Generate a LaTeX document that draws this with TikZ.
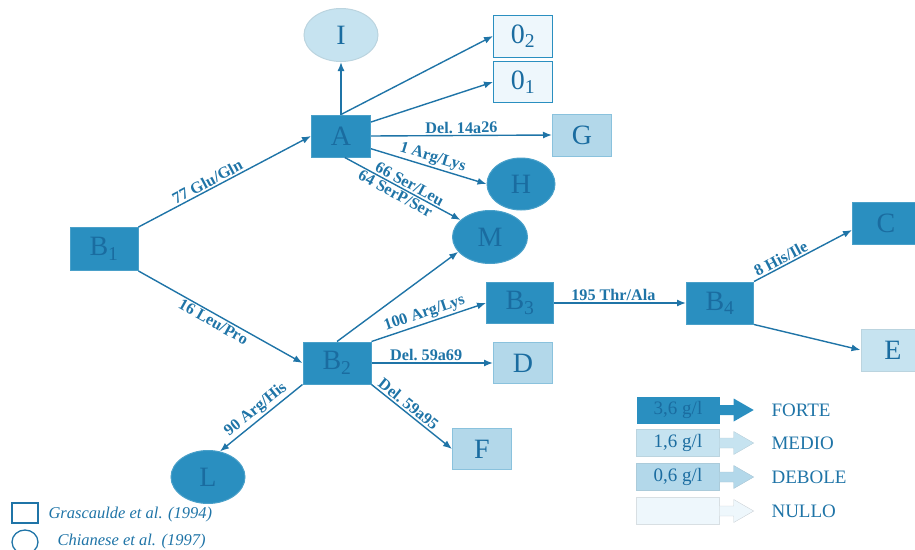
\documentclass[tikz,border=0pt]{standalone}
\usepackage{fontspec}
\setmainfont{Liberation Serif}
\usetikzlibrary{shapes.geometric, arrows.meta}

\definecolor{fortecol}{HTML}{2A8FC0}
\definecolor{mediocol}{HTML}{C6E3F0}
\definecolor{debolecol}{HTML}{B3D8EA}
\definecolor{nullocol}{HTML}{EEF7FC}
\definecolor{linecol}{HTML}{1F74A7}
\definecolor{txtcol}{HTML}{1A6CA0}

\tikzset{
  gene/.style={rectangle, minimum width=59pt, minimum height=42pt, inner sep=0pt,
    text=txtcol, font=\fontsize{28}{30}\selectfont, line width=1pt},
  oval/.style={gene, ellipse, minimum width=74pt, minimum height=53pt},
  forte/.style={fill=fortecol, draw=fortecol!85!white},
  medio/.style={fill=mediocol, draw=mediocol!85!gray},
  debole/.style={fill=debolecol, draw=debolecol!70!fortecol},
  nullo/.style={fill=nullocol, draw=fortecol},
  mut/.style={-{Latex[length=9pt,width=7pt]}, line width=1.4pt, draw=linecol},
  lab/.style={font=\bfseries\fontsize{16.2}{16.5}\selectfont, text=linecol, sloped, inner sep=1.5pt},
  keybox/.style={rectangle, minimum width=83pt, minimum height=27pt, inner sep=0pt,
    text=txtcol, font=\fontsize{19}{20}\selectfont},
  keytext/.style={anchor=west, text=linecol, font=\fontsize{19}{20}\selectfont},
  reftext/.style={anchor=west, text=linecol, font=\itshape\fontsize{16.5}{17}\selectfont}
}

\begin{document}
\begin{tikzpicture}[x=1pt,y=-1pt]
        \useasboundingbox (0,0) rectangle (915,549);
        % variants
        \node[oval, medio] (i) at (341,35) {I};
        \node[gene, nullo] (otwo) at (523,36) {0\textsubscript{2}};
        \node[gene, nullo, minimum height=41pt] (oone) at (523,82) {0\textsubscript{1}};
        \node[gene, forte] (a) at (341,136) {A};
        \node[gene, debole] (g) at (582,135) {G};
        \node[oval, forte, minimum width=68pt, minimum height=52pt] (h) at (521,184) {H};
        \node[oval, forte, minimum width=75pt] (m) at (490,237) {M};
        \node[gene, forte, minimum width=68pt, minimum height=43pt] (b1) at (104,249) {B\textsubscript{1}};
        \node[gene, forte, minimum width=68pt] (b2) at (337,363) {B\textsubscript{2}};
        \node[gene, forte, minimum width=67pt, minimum height=41pt] (b3) at (520,303) {B\textsubscript{3}};
        \node[gene, debole, minimum height=41pt] (d) at (523,363) {D};
        \node[gene, debole, minimum height=41pt] (f) at (482,449) {F};
        \node[gene, forte, minimum width=67pt] (b4) at (720,303) {B\textsubscript{4}};
        \node[gene, forte, minimum width=67pt] (c) at (886,223) {C};
        \node[gene, medio, minimum width=64pt] (e) at (893,350) {E};
        \node[oval, forte] (l) at (208,477) {L};

        % mutations
        \draw[mut] (b1.north east) -- node[lab, above, pos=0.42] {77 Glu/Gln} (a.west);
        \draw[mut] (b1.south east) -- node[lab, below, pos=0.48] {16 Leu/Pro} (b2.west);
        \draw[mut] (a.north) -- (i.south);
        \draw[mut] (a.north) -- (otwo.west);
        \draw[mut] (a.25) -- (oone.west);
        \draw[mut] (a.east) -- node[lab, above] {Del.\ 14a26} (g.west);
        \draw[mut] (a.-23) -- node[lab, above, pos=0.51] {1 Arg/Lys} (h.west);
        \draw[mut] (a.-80) -- node[lab, above, pos=0.53] {66 Ser/Leu}
              node[lab, below, pos=0.47] {64 SerP/Ser} (m.150);
        \draw[mut] (b2.north) -- (m.205);
        \draw[mut] (b2.north east) -- node[lab, above, pos=0.49] {100 Arg/Lys} (b3.west);
        \draw[mut] (b2.east) -- node[lab, above, pos=0.45] {Del.\ 59a69} (d.west);
        \draw[mut] (b2.south east) -- node[lab, above, pos=0.4] {Del.\ 59a95} (f.west);
        \draw[mut] (b2.south west) -- node[lab, above, pos=0.49] {90 Arg/His} (l.65);
        \draw[mut] (b3.east) -- node[lab, above, pos=0.45] {195 Thr/Ala} (b4.west);
        \draw[mut] (b4.north east) -- node[lab, above, pos=0.31] {8 His/Ile} ([yshift=-7pt]c.west);
        \draw[mut] (b4.south east) -- (e.west);

        % legend: strength
        \node[keybox, forte, draw=none] (kforte) at (678,410) {3,6 g/l};
        \node[keybox, medio] (kmedio) at (678,443) {1,6 g/l};
        \node[keybox, debole, draw=debolecol!85!gray] (kdebole) at (678,477) {0,6 g/l};
        \node[keybox, nullo, draw=nullocol!80!gray] (knullo) at (678,511) {};
        \fill[fortecol] (kforte.east) ++(0,-5) -- ++(14,0) -- ++(0,-6.5) -- ++(20,11.5)
              -- ++(-20,11.5) -- ++(0,-6.5) -- ++(-14,0) -- cycle;
        \filldraw[fill=mediocol, draw=mediocol!80!gray] (kmedio.east) ++(0,-5) -- ++(14,0) -- ++(0,-6.5)
              -- ++(20,11.5) -- ++(-20,11.5) -- ++(0,-6.5) -- ++(-14,0);
        \filldraw[fill=debolecol, draw=debolecol!80!gray] (kdebole.east) ++(0,-5) -- ++(14,0) -- ++(0,-6.5)
              -- ++(20,11.5) -- ++(-20,11.5) -- ++(0,-6.5) -- ++(-14,0);
        \filldraw[fill=nullocol, draw=nullocol!70!gray] (knullo.east) ++(0,-5) -- ++(14,0) -- ++(0,-6.5)
              -- ++(20,11.5) -- ++(-20,11.5) -- ++(0,-6.5) -- ++(-14,0);
        \node[keytext] (tforte) at (768,410) {FORTE};
        \node[keytext] (tmedio) at (768,443) {MEDIO};
        \node[keytext] (tdebole) at (768,477) {DEBOLE};
        \node[keytext] (tnullo) at (768,511) {NULLO};

        % legend: sources
        \node[draw=linecol, line width=1.3pt, minimum width=26pt, minimum height=20pt, inner sep=0pt] (sqkey) at (25,513) {};
        \node[reftext] (grasc) at (45,515) {Grascaulde et al. (1994)};
        \node[ellipse, draw=linecol, line width=1.3pt, minimum width=26pt, minimum height=24pt, inner sep=0pt] (ovkey) at (25,542) {};
        \node[reftext] (chian) at (54,542) {Chianese et al. (1997)};
\end{tikzpicture}
\end{document}
